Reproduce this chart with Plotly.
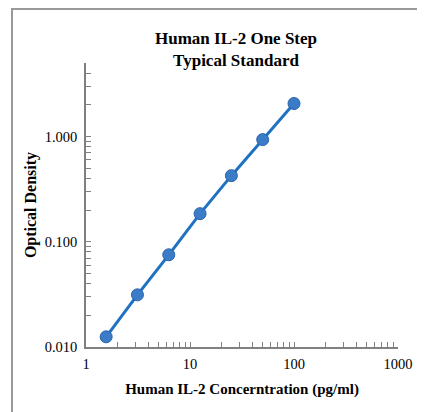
import plotly.graph_objects as go

conc = [1.5625, 3.125, 6.25, 12.5, 25, 50, 100]
od = [0.0125, 0.0313, 0.0752, 0.185, 0.425, 0.935, 2.06]

x_major = [1, 10, 100, 1000]
x_major_labels = ["1", "10", "100", "1000"]
y_major = [0.01, 0.1, 1]
y_major_labels = ["0.010", "0.100", "1.000"]

def log_ticks(majors, labels, upper):
    vals, texts = [], []
    for m, lab in zip(majors, labels):
        for k in range(1, 10):
            v = m * k
            if v > upper * 1.0001:
                break
            vals.append(v)
            texts.append(lab if k == 1 else "")
    return vals, texts

xv, xt = log_ticks(x_major, x_major_labels, 1000)
yv, yt = log_ticks(y_major, y_major_labels, 5)

serif = "Liberation Serif, Times New Roman, serif"

fig = go.Figure()
fig.add_trace(go.Scatter(
    x=conc, y=od, mode="lines+markers",
    line=dict(color="#1f72c1", width=3),
    marker=dict(size=12, color="#3b7cc8", line=dict(color="#2a62a8", width=1)),
    showlegend=False,
))

W, H = 417, 404
fig.update_layout(
    width=W, height=H,
    margin=dict(l=78, r=27, t=55, b=65),
    paper_bgcolor="white", plot_bgcolor="white",
    font=dict(family=serif, color="black"),
    title=dict(
        text="<b>Human IL-2 One Step<br>Typical Standard</b>",
        x=228 / W, xanchor="center", y=1 - 36 / H, yanchor="top",
        font=dict(family=serif, size=17, color="black"),
    ),
    shapes=[dict(type="rect", xref="paper", yref="paper",
                 x0=-74 / 312, x1=1.3, y0=-1, y1=1 + 54 / 284,
                 line=dict(color="#999999", width=2))],
)

fig.update_xaxes(
    type="log", range=[0, 3],
    tickvals=xv, ticktext=xt,
    ticks="inside", ticklen=5, tickcolor="#808080", tickwidth=1,
    ticklabelstandoff=3,
    showline=True, linecolor="#808080", linewidth=1.5,
    showgrid=False, zeroline=False,
    tickfont=dict(family=serif, size=14.5, color="black"),
    title=dict(text="<b>Human IL-2 Concerntration (pg/ml)</b>",
               font=dict(family=serif, size=15, color="black"), standoff=12),
)
fig.update_yaxes(
    type="log", range=[-2, 0.699],
    tickvals=yv, ticktext=yt,
    ticks="inside", ticklen=5, tickcolor="#808080", tickwidth=1,
    ticklabelstandoff=4,
    showline=True, linecolor="#808080", linewidth=1.5,
    showgrid=False, zeroline=False,
    tickfont=dict(family=serif, size=14.5, color="black"),
    title=dict(text="<b>Optical Density</b>",
               font=dict(family=serif, size=16, color="black"), standoff=4),
)

fig.write_html("out.html")
